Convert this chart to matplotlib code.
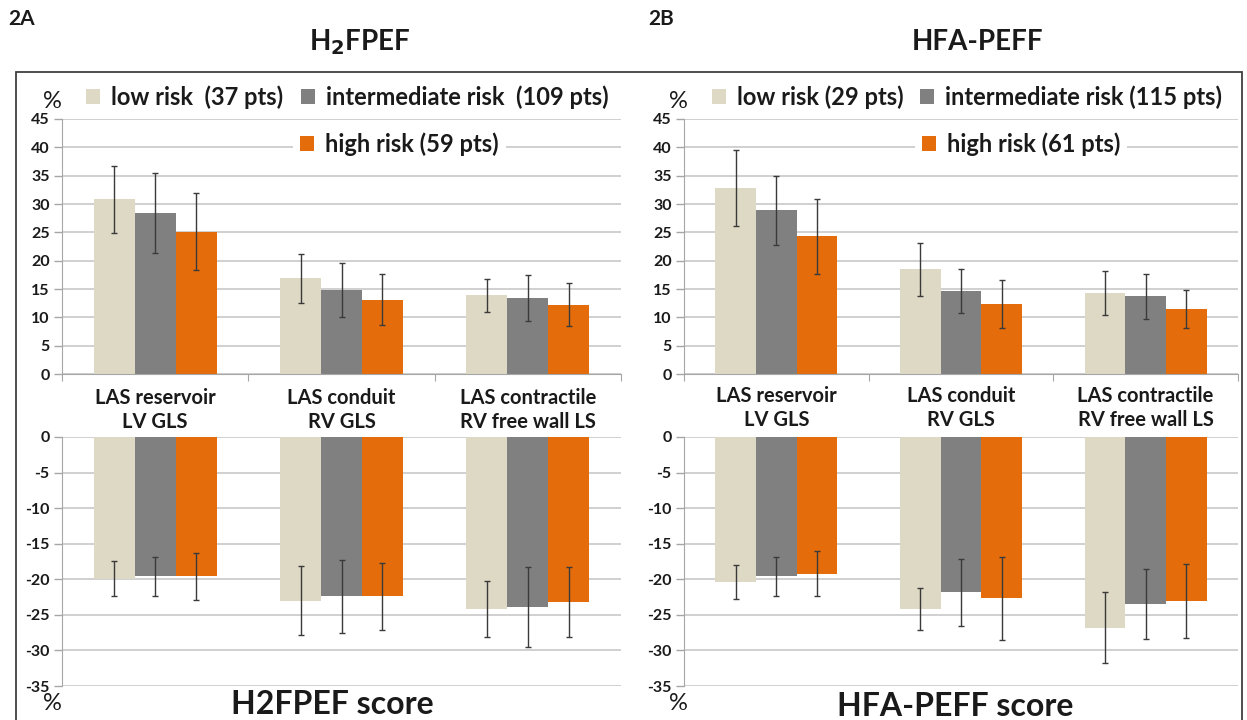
import numpy as np
import matplotlib.pyplot as plt
from matplotlib.patches import Patch, Rectangle
import matplotlib.transforms as mtransforms

plt.rcParams['font.family'] = ['Lato', 'DejaVu Sans']

# categories (two-line labels between the upper and lower charts)
categories = ['LAS reservoir\nLV GLS', 'LAS conduit\nRV GLS', 'LAS contractile\nRV free wall LS']

# 2A  H2FPEF: upper chart = LA strain, lower chart = ventricular strain (mean, SD)
h2_top_mean = [[30.8, 16.9, 13.9], [28.4, 14.8, 13.4], [25.1, 13.1, 12.2]]
h2_top_sd = [[5.85, 4.3, 2.9], [7.1, 4.8, 4.05], [6.8, 4.5, 3.8]]
h2_bot_mean = [[-19.9, -23.0, -24.2], [-19.6, -22.4, -23.9], [-19.6, -22.4, -23.2]]
h2_bot_sd = [[2.5, 4.85, 3.9], [2.75, 5.15, 5.6], [3.35, 4.75, 4.9]]
h2_legend = ['low risk  (37 pts)', 'intermediate risk  (109 pts)', 'high risk (59 pts)']

# 2B  HFA-PEFF
hfa_top_mean = [[32.8, 18.5, 14.3], [28.9, 14.6, 13.7], [24.3, 12.4, 11.5]]
hfa_top_sd = [[6.75, 4.7, 3.85], [6.05, 3.9, 4.0], [6.65, 4.2, 3.4]]
hfa_bot_mean = [[-20.4, -24.2, -26.8], [-19.6, -21.8, -23.5], [-19.2, -22.7, -23.0]]
hfa_bot_sd = [[2.4, 2.95, 4.95], [2.8, 4.7, 4.95], [3.15, 5.9, 5.2]]
hfa_legend = ['low risk (29 pts)', 'intermediate risk (115 pts)', 'high risk (61 pts)']

colors = ['#ddd9c4', '#808080', '#e46c0a']
grid_c = '#c4c4c4'
text_c = '#1a1a1a'

W, H = 1247, 720
fig = plt.figure(figsize=(W / 100, H / 100), dpi=100)


def fbox(x0, y0, x1, y1):
    # pixel box (top-left origin) -> figure fraction rect
    return [x0 / W, 1 - y1 / H, (x1 - x0) / W, (y1 - y0) / H]


def style_axis(ax, ticks):
    ax.set_yticks(ticks)
    ax.set_yticklabels([str(t) for t in ticks], fontsize=11.5, fontweight='bold', color=text_c)
    ax.tick_params(axis='y', length=6, color='#a6a6a6', width=1, pad=3)
    ax.yaxis.grid(True, color=grid_c, lw=1.1)
    ax.set_axisbelow(True)
    for s in ['top', 'right']:
        ax.spines[s].set_visible(False)
    ax.spines['left'].set_color('#a6a6a6')
    ax.set_xlim(-0.5, 2.5)


def draw_bars(ax, means, sds):
    x = np.arange(len(categories))
    w = 0.22
    for k in range(3):
        ax.bar(x + (k - 1) * w, means[k], w, color=colors[k], zorder=2)
        ax.errorbar(x + (k - 1) * w, means[k], yerr=sds[k], fmt='none',
                    ecolor='#3a3a3a', elinewidth=1, capsize=2, capthick=1, zorder=3)


def legend_entry(ax, k, label, x_px, y_px, boxed=False):
    leg = ax.legend([Patch(facecolor=colors[k], edgecolor='none')], [label],
                    frameon=boxed, facecolor='white', edgecolor='none', framealpha=1,
                    loc='center left', bbox_to_anchor=(x_px / W, 1 - y_px / H),
                    bbox_transform=fig.transFigure, fontsize=17,
                    handlelength=0.6, handleheight=0.6, handletextpad=0.45,
                    borderpad=0.3 if boxed else 0, borderaxespad=0)
    leg.get_frame().set_boxstyle('square', pad=0.0)
    for t in leg.get_texts():
        t.set_fontweight('bold')
        t.set_color(text_c)
    leg.set_zorder(5)
    ax.add_artist(leg)


def panel(xl, xr, top_mean, top_sd, bot_mean, bot_sd, legend_labels, leg_x, pct_x, cat_y):
    ax_t = fig.add_axes(fbox(xl, 119, xr, 374))
    draw_bars(ax_t, top_mean, top_sd)
    ax_t.set_ylim(0, 45)
    style_axis(ax_t, list(range(0, 50, 5)))
    ax_t.spines['bottom'].set_color('#a6a6a6')
    ax_t.set_xticks([-0.5, 0.5, 1.5, 2.5])
    ax_t.set_xticklabels([])
    ax_t.tick_params(axis='x', length=5, color='#a6a6a6', direction='out')

    ax_b = fig.add_axes(fbox(xl, 437, xr, 686))
    draw_bars(ax_b, bot_mean, bot_sd)
    ax_b.set_ylim(-35, 0)
    style_axis(ax_b, list(range(-35, 5, 5))[::-1])
    ax_b.spines['bottom'].set_visible(False)
    ax_b.set_xticks([])

    # category labels between the two charts
    trans = mtransforms.blended_transform_factory(ax_t.transData, fig.transFigure)
    for i, lab in enumerate(categories):
        ax_t.text(i, 1 - cat_y / H, lab, transform=trans, ha='center', va='center',
                  fontsize=14.5, fontweight='bold', color=text_c, linespacing=1.3)

    # % markers
    fig.text(pct_x / W, 1 - 101 / H, '%', ha='center', va='center', fontsize=17, color=text_c)
    fig.text(pct_x / W, 1 - 703 / H, '%', ha='center', va='center', fontsize=17, color=text_c)

    legend_entry(ax_t, 0, legend_labels[0], leg_x[0], 97)
    legend_entry(ax_t, 1, legend_labels[1], leg_x[1], 97)
    legend_entry(ax_t, 2, legend_labels[2], leg_x[2], 144, boxed=True)
    return ax_t, ax_b


panel(62, 621, h2_top_mean, h2_top_sd, h2_bot_mean, h2_bot_sd, h2_legend,
      [86, 301, 293], 52, 410)
panel(684, 1238, hfa_top_mean, hfa_top_sd, hfa_bot_mean, hfa_bot_sd, hfa_legend,
      [712, 920, 915], 678, 408)

# outer frame
fig.patches.append(Rectangle((16 / W, -0.01), (1242 - 16) / W, 1 - 72 / H + 0.01,
                             transform=fig.transFigure, fill=False,
                             edgecolor='#404040', lw=1.3, zorder=0))

# panel titles
fig.text(8 / W, 1 - 19 / H, '2A', fontsize=15, fontweight='bold', color=text_c, va='center')
fig.text(648 / W, 1 - 19 / H, '2B', fontsize=15, fontweight='bold', color=text_c, va='center')
fig.text(360 / W, 1 - 42 / H, r'H$_\mathbf{2}$FPEF', fontsize=20, fontweight='bold',
         color=text_c, ha='center', va='center')
fig.text(978 / W, 1 - 42 / H, 'HFA-PEFF', fontsize=20, fontweight='bold',
         color=text_c, ha='center', va='center')
fig.text(332 / W, 1 - 704 / H, 'H2FPEF score', fontsize=23, fontweight='bold',
         color=text_c, ha='center', va='center')
fig.text(955 / W, 1 - 706 / H, 'HFA-PEFF score', fontsize=23, fontweight='bold',
         color=text_c, ha='center', va='center')

fig.savefig('out.png', dpi=100, facecolor='white')
